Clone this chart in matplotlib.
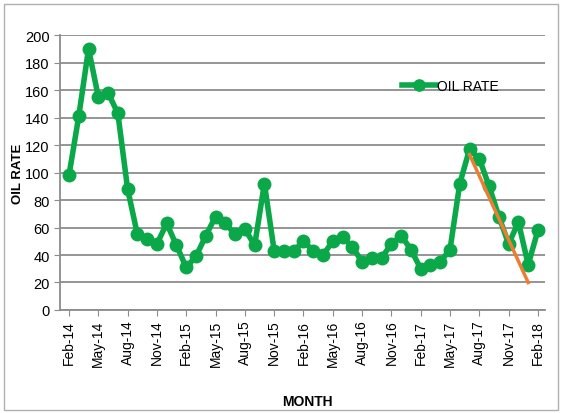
import matplotlib.pyplot as plt
import numpy as np
from matplotlib.patches import Rectangle

# monthly oil rate, Feb-14 .. Feb-18
months = ['Feb-14', 'Mar-14', 'Apr-14', 'May-14', 'Jun-14', 'Jul-14', 'Aug-14',
          'Sep-14', 'Oct-14', 'Nov-14', 'Dec-14', 'Jan-15', 'Feb-15', 'Mar-15',
          'Apr-15', 'May-15', 'Jun-15', 'Jul-15', 'Aug-15', 'Sep-15', 'Oct-15',
          'Nov-15', 'Dec-15', 'Jan-16', 'Feb-16', 'Mar-16', 'Apr-16', 'May-16',
          'Jun-16', 'Jul-16', 'Aug-16', 'Sep-16', 'Oct-16', 'Nov-16', 'Dec-16',
          'Jan-17', 'Feb-17', 'Mar-17', 'Apr-17', 'May-17', 'Jun-17', 'Jul-17',
          'Aug-17', 'Sep-17', 'Oct-17', 'Nov-17', 'Dec-17', 'Jan-18', 'Feb-18']
oil_rate = [98, 141, 190, 155, 158, 143, 88,
            55, 52, 48, 63, 47, 31, 39,
            54, 68, 63, 55, 59, 47, 92,
            43, 43, 43, 50, 43, 40, 50,
            53, 46, 35, 38, 38, 48, 54,
            44, 30, 33, 35, 44, 92, 117,
            110, 90, 68, 48, 64, 33, 58]

# decline line drawn over the last peak
trend_months = ['Jul-17', 'Jan-18']
trend_rate = [113, 20]

green = '#0BA84A'
orange = '#ED7D31'
grid_gray = '#8C8C8C'

plt.rcParams['font.family'] = ['Liberation Sans', 'DejaVu Sans']

fig = plt.figure(figsize=(5.63, 4.14), dpi=100)
ax = fig.add_axes([0.1066, 0.2488, 0.8614, 0.6642])

x = np.arange(len(months))
ax.plot(x, oil_rate, '-o', color=green, lw=4, ms=9, label='OIL RATE', zorder=3)
tx = [months.index(m) for m in trend_months]
ax.plot(tx, trend_rate, color=orange, lw=2.5, zorder=4)

ax.set_ylim(0, 200)
ax.set_xlim(-0.92, 48.72)
ax.set_yticks(np.arange(0, 201, 20))
ax.set_xticks(x[::3])
ax.set_xticklabels(months[::3], rotation=90, fontsize=10)
ax.tick_params(axis='y', labelsize=10.5, length=4, color=grid_gray)
ax.tick_params(axis='x', length=4, color=grid_gray, pad=3)

ax.grid(axis='y', color=grid_gray, lw=1.3)
ax.set_axisbelow(True)
for side in ('top', 'right'):
    ax.spines[side].set_visible(False)
for side in ('left', 'bottom'):
    ax.spines[side].set_color(grid_gray)
    ax.spines[side].set_linewidth(1.3)

ax.set_ylabel('OIL RATE', fontweight='bold', fontsize=9.5)
ax.yaxis.set_label_coords(-0.075, 0.5)
ax.set_xlabel('MONTH', fontweight='bold', fontsize=10)
ax.xaxis.set_label_coords(0.51, -0.305)

leg = ax.legend(loc='upper left', bbox_to_anchor=(0.68, 0.885), frameon=False,
                handlelength=2.4, handletextpad=0.1, markerscale=0.9,
                prop={'size': 10})

# chart area border
fig.patches.append(Rectangle((0.007, 0.008), 0.985, 0.98, transform=fig.transFigure,
                             fill=False, edgecolor='#B0B0B0', lw=1))

fig.savefig('out.png', dpi=100)
